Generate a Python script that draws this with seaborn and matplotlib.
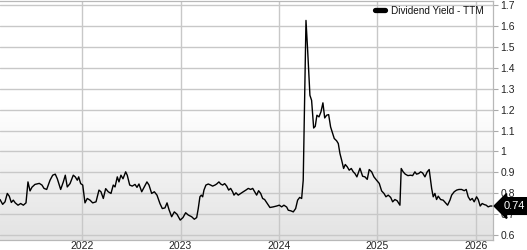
import numpy as np
import pandas as pd
import matplotlib
matplotlib.use("Agg")
import matplotlib.pyplot as plt
import matplotlib.transforms as mtransforms
from matplotlib.lines import Line2D
from matplotlib.colors import LinearSegmentedColormap
import seaborn as sns

# ---- data (decimal year, dividend yield TTM) ----
years = [
    2021.167, 2021.194, 2021.218, 2021.241, 2021.261, 2021.282, 2021.302, 2021.322, 2021.350, 2021.377,
    2021.404, 2021.431, 2021.451, 2021.472, 2021.492, 2021.522, 2021.566, 2021.593, 2021.614, 2021.641,
    2021.675, 2021.702, 2021.728, 2021.749, 2021.783, 2021.810, 2021.830, 2021.850, 2021.878, 2021.911,
    2021.931, 2021.952, 2021.966, 2021.986, 2022.007, 2022.030, 2022.053, 2022.081, 2022.108, 2022.142,
    2022.172, 2022.192, 2022.216, 2022.240, 2022.266, 2022.294, 2022.317, 2022.335, 2022.358, 2022.375,
    2022.395, 2022.416, 2022.443, 2022.459, 2022.484, 2022.510, 2022.538, 2022.558, 2022.578, 2022.606,
    2022.632, 2022.659, 2022.680, 2022.707, 2022.734, 2022.761, 2022.791, 2022.815, 2022.842, 2022.863,
    2022.883, 2022.910, 2022.937, 2022.964, 2022.997, 2023.025, 2023.052, 2023.079, 2023.113, 2023.140,
    2023.164, 2023.180, 2023.197, 2023.211, 2023.225, 2023.238, 2023.258, 2023.282, 2023.306, 2023.326,
    2023.350, 2023.367, 2023.390, 2023.408, 2023.428, 2023.448, 2023.469, 2023.489, 2023.509, 2023.529,
    2023.543, 2023.563, 2023.586, 2023.611, 2023.637, 2023.664, 2023.688, 2023.712, 2023.733, 2023.753,
    2023.773, 2023.793, 2023.814, 2023.834, 2023.854, 2023.881, 2023.908, 2023.942, 2023.976, 2024.003,
    2024.027, 2024.050, 2024.078, 2024.094, 2024.121, 2024.145, 2024.169, 2024.189, 2024.210, 2024.230,
    2024.246, 2024.274, 2024.291, 2024.314, 2024.331, 2024.352, 2024.368, 2024.385, 2024.406, 2024.426,
    2024.446, 2024.464, 2024.484, 2024.504, 2024.524, 2024.545, 2024.561, 2024.585, 2024.602, 2024.619,
    2024.636, 2024.656, 2024.673, 2024.693, 2024.713, 2024.734, 2024.754, 2024.771, 2024.791, 2024.822,
    2024.849, 2024.873, 2024.896, 2024.916, 2024.941, 2024.964, 2024.991, 2025.018, 2025.042, 2025.066,
    2025.086, 2025.109, 2025.134, 2025.154, 2025.177, 2025.200, 2025.228, 2025.241, 2025.261, 2025.282,
    2025.309, 2025.336, 2025.357, 2025.380, 2025.397, 2025.418, 2025.438, 2025.458, 2025.482, 2025.505,
    2025.525, 2025.550, 2025.566, 2025.583, 2025.600, 2025.617, 2025.641, 2025.667, 2025.692, 2025.712,
    2025.736, 2025.753, 2025.779, 2025.804, 2025.827, 2025.854, 2025.881, 2025.901, 2025.921, 2025.942,
    2025.962, 2025.982, 2026.006, 2026.023, 2026.043, 2026.063, 2026.084, 2026.104, 2026.124, 2026.145,
    2026.162,
]
yield_ttm = [
    0.771, 0.748, 0.760, 0.800, 0.787, 0.757, 0.768, 0.755, 0.744, 0.752,
    0.744, 0.755, 0.855, 0.812, 0.830, 0.843, 0.848, 0.840, 0.824, 0.819,
    0.863, 0.887, 0.892, 0.870, 0.819, 0.855, 0.887, 0.831, 0.847, 0.887,
    0.879, 0.863, 0.879, 0.847, 0.840, 0.755, 0.776, 0.768, 0.755, 0.760,
    0.816, 0.808, 0.776, 0.823, 0.808, 0.800, 0.840, 0.831, 0.879, 0.855,
    0.887, 0.870, 0.903, 0.887, 0.840, 0.835, 0.843, 0.829, 0.845, 0.808,
    0.831, 0.855, 0.840, 0.800, 0.808, 0.792, 0.752, 0.728, 0.731, 0.755,
    0.723, 0.689, 0.712, 0.701, 0.673, 0.685, 0.708, 0.697, 0.689, 0.677,
    0.685, 0.728, 0.784, 0.792, 0.784, 0.816, 0.840, 0.845, 0.840, 0.835,
    0.840, 0.845, 0.855, 0.845, 0.840, 0.847, 0.835, 0.816, 0.824, 0.808,
    0.792, 0.803, 0.792, 0.800, 0.808, 0.816, 0.824, 0.819, 0.824, 0.808,
    0.792, 0.813, 0.800, 0.776, 0.771, 0.752, 0.733, 0.736, 0.740, 0.744,
    0.736, 0.744, 0.735, 0.720, 0.717, 0.712, 0.728, 0.768, 0.781, 0.776,
    0.863, 1.625, 1.482, 1.268, 1.244, 1.112, 1.120, 1.173, 1.165, 1.189,
    1.232, 1.160, 1.173, 1.176, 1.117, 1.086, 1.062, 1.051, 1.038, 0.990,
    0.959, 0.919, 0.938, 0.927, 0.911, 0.919, 0.903, 0.895, 0.879, 0.920,
    0.882, 0.879, 0.867, 0.914, 0.903, 0.879, 0.863, 0.848, 0.812, 0.800,
    0.784, 0.792, 0.781, 0.760, 0.771, 0.765, 0.744, 0.919, 0.903, 0.892,
    0.885, 0.887, 0.885, 0.903, 0.892, 0.895, 0.903, 0.898, 0.879, 0.903,
    0.914, 0.824, 0.784, 0.800, 0.771, 0.787, 0.771, 0.768, 0.755, 0.744,
    0.768, 0.792, 0.808, 0.816, 0.819, 0.819, 0.813, 0.819, 0.784, 0.768,
    0.776, 0.760, 0.784, 0.771, 0.740, 0.752, 0.747, 0.744, 0.736, 0.740,
    0.740,
]
year_ticks = [2022, 2023, 2024, 2025, 2026]
year_labels = ["2022", "2023", "2024", "2025", "2026"]
y_ticks = [0.6, 0.7, 0.8, 0.9, 1.0, 1.1, 1.2, 1.3, 1.4, 1.5, 1.6, 1.7]
y_labels = ["0.6", "0.7", "0.8", "0.9", "1", "1.1", "1.2", "1.3", "1.4", "1.5", "1.6", "1.7"]
series_name = "Dividend Yield - TTM"
last_value_label = "0.74"
last_value = 0.74

df = pd.DataFrame({"year": years, "value": yield_ttm})

sns.set_theme(style="white")
plt.rcParams["font.family"] = ["Liberation Sans", "DejaVu Sans"]

fig = plt.figure(figsize=(5.27, 2.5), dpi=100)
ax = fig.add_axes([0.0, 0.04, 493 / 527, 0.958])

# gradient background
grad = np.linspace(0, 1, 256).reshape(-1, 1)
cmap = LinearSegmentedColormap.from_list("bg", [(0.0, "#e3e3e3"), (0.55, "#ffffff"), (1.0, "#ffffff")])
ax.imshow(grad, aspect="auto", cmap=cmap, extent=[0, 1, 1, 0], transform=ax.transAxes, zorder=0,
          interpolation="bilinear")

sns.lineplot(data=df, x="year", y="value", ax=ax, color="black", linewidth=1.0, zorder=3,
             legend=False)

ax.set_xlim(2021.167, 2026.173)
ax.set_ylim(0.578, 1.72)
ax.set_xticks(year_ticks)
ax.set_xticklabels(year_labels)
ax.set_yticks(y_ticks)
ax.set_yticklabels(y_labels)
ax.yaxis.tick_right()
ax.set_xlabel("")
ax.set_ylabel("")

ax.grid(True, color="#c8c8c8", linewidth=1.0, zorder=1)
ax.set_axisbelow(True)

ax.tick_params(axis="y", which="both", right=True, left=False, length=3.5, width=0.8,
               color="#aaaaaa", pad=2.0, labelsize=7.5, labelcolor="#222222")
ax.tick_params(axis="x", which="both", bottom=False, length=0, pad=0.6, labelsize=7.5,
               labelcolor="#222222")

ax.spines["left"].set_visible(False)
for side in ["right", "bottom", "top"]:
    ax.spines[side].set_color("#b8b8b8")
    ax.spines[side].set_linewidth(0.9)

handle = Line2D([0], [0], color="black", linewidth=3.8, solid_capstyle="round")
leg = ax.legend([handle], [series_name], loc="upper right", bbox_to_anchor=(0.982, 0.978),
                frameon=False, fontsize=7.2, handlelength=1.0, handletextpad=0.6,
                borderaxespad=0.0, borderpad=0.0)
for t in leg.get_texts():
    t.set_color("#111111")

trans = mtransforms.blended_transform_factory(ax.transAxes, ax.transData)
ax.text(1.021, last_value, last_value_label, transform=trans, ha="left", va="center",
        fontsize=8.0, color="white", zorder=10, clip_on=False,
        bbox=dict(boxstyle="larrow,pad=0.3", fc="black", ec="black"))

fig.savefig("out.png", dpi=100)
